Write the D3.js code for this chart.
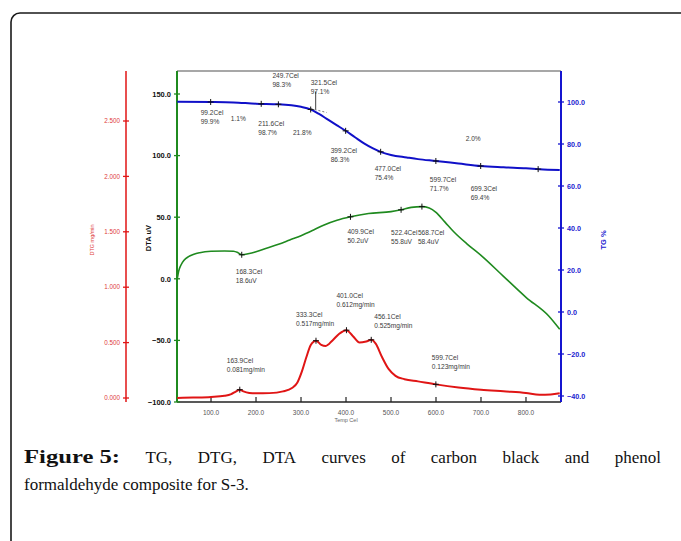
<!DOCTYPE html>
<html>
<head>
<meta charset="utf-8">
<script src="https://cdn.jsdelivr.net/npm/d3@7"></script>
<style>
	body { margin: 0; background: #fff; }
	svg { display: block; }
</style>
</head>
<body>
<svg id="chart" width="681" height="541"></svg>
<script>
// temperature (Cel) / value pairs
const tgTemp = [25, 100, 150, 200, 250, 300, 320, 340, 360, 380, 399, 420, 440, 460, 480, 500, 535, 560, 600, 650, 700, 750, 800, 830, 875];
const tgVal  = [100.1, 100.0, 99.8, 99.2, 98.9, 97.7, 96.6, 94.3, 91.6, 88.9, 86.3, 83.2, 80.3, 77.9, 76.0, 74.8, 73.6, 72.8, 71.9, 70.7, 69.5, 68.9, 68.4, 68.0, 67.6];

const dtaTemp = [25, 28, 33, 40, 50, 62, 75, 100, 130, 150, 160, 168.3, 185, 200, 225, 250, 275, 300, 330, 350, 380, 409.9, 450, 500, 522.4, 545, 568.7, 585, 600, 620, 640, 670, 700, 750, 800, 850, 875];
const dtaVal  = [0, 6, 11, 15, 18, 20, 21.2, 22.3, 22.6, 22.4, 21.2, 19.5, 20.5, 22, 25, 28, 31.5, 35, 40, 43.5, 47.5, 50.3, 53, 54.5, 56, 58, 58.6, 57.5, 54, 46, 38, 28, 19, 2, -15, -30, -41];

const dtgTemp = [25, 60, 100, 130, 145, 155, 163.9, 172, 185, 200, 230, 260, 280, 292, 302, 312, 322, 333.3, 345, 355, 370, 385, 401, 415, 430, 445, 456.1, 466, 480, 495, 510, 530, 560, 599.7, 650, 700, 750, 800, 830, 855, 875];
const dtgVal  = [0.0, 0.004, 0.01, 0.02, 0.035, 0.058, 0.075, 0.06, 0.046, 0.042, 0.044, 0.06, 0.09, 0.14, 0.24, 0.37, 0.48, 0.517, 0.48, 0.47, 0.52, 0.58, 0.612, 0.56, 0.50, 0.51, 0.525, 0.49, 0.37, 0.26, 0.2, 0.17, 0.15, 0.123, 0.095, 0.075, 0.06, 0.045, 0.03, 0.032, 0.042];

const xTicks   = [100, 200, 300, 400, 500, 600, 700, 800];
const dtaTicks = [-100, -50, 0, 50, 100, 150];
const dtgTicks = [0, 0.5, 1.0, 1.5, 2.0, 2.5];
const tgTicks  = [-40, -20, 0, 20, 40, 60, 80, 100];

// marked points
const tgMarks  = [99.2, 211.6, 249.7, 321.5, 399.2, 477.0, 599.7, 699.3, 827];
const tgNotes  = [["99.2Cel", "99.9%"], ["211.6Cel", "98.7%"], ["249.7Cel", "98.3%"], ["321.5Cel", "97.1%"],
                  ["399.2Cel", "86.3%"], ["477.0Cel", "75.4%"], ["599.7Cel", "71.7%"], ["699.3Cel", "69.4%"], null];
const tgSteps  = ["1.1%", "21.8%", "2.0%"];
const tgStepAt = [[144, 91], [282, 84.3], [666, 81.4]];

const dtaMarks = [168.3, 409.9, 522.4, 568.7];
const dtaNotes = [["168.3Cel", "18.6uV"], ["409.9Cel", "50.2uV"], ["522.4Cel", "55.8uV"], ["568.7Cel", "58.4uV"]];

const dtgMarks = [163.9, 333.3, 401.0, 456.1, 599.7];
const dtgNotes = [["163.9Cel", "0.081mg/min"], ["333.3Cel", "0.517mg/min"], ["401.0Cel", "0.612mg/min"],
                  ["456.1Cel", "0.525mg/min"], ["599.7Cel", "0.123mg/min"]];

// label offsets from their marker (layout only)
const tgOff  = [[-10, 13.5], [-3, 22], [-6, -26.5], [0, -24.5], [-15, 22.5], [-6, 19.5], [-6, 21.5], [-10, 24.5], null];
const dtaOff = [[-6, 19.5], [-3, 17.5], [-10, 25.5], [-4, 28.5]];
const dtgOff = [[-13, -26.5], [-20, -23.5], [-10, -32.5], [3, -20.5], [-4, -24.5]];

const captionBold = "Figure 5:";
const captionLine1 = "TG, DTG, DTA curves of carbon black and phenol";
const captionLine2 = "formaldehyde composite for S-3.";

const plot = { left: 177, right: 561, top: 71, bottom: 402, redAxis: 126 };
const colors = { tg: "#1010c8", dta: "#1f8a1f", dtg: "#e01515", note: "#3a3a3a" };
const sans = "'Liberation Sans', Arial, sans-serif";

const svg = d3.select("#chart");

// frame
svg.append("rect")
	.attr("x", 11).attr("y", 13)
	.attr("width", 720).attr("height", 580)
	.attr("rx", 9)
	.attr("fill", "none")
	.attr("stroke", "#1a1a1a")
	.attr("stroke-width", 1.6);

const x = d3.scaleLinear().domain([24.4, 877.8]).range([plot.left, plot.right]);
const yDta = d3.scaleLinear().domain([-100, 150]).range([402, 94]);
const yDtg = d3.scaleLinear().domain([0, 2.5]).range([398, 121]);
const yTg = d3.scaleLinear().domain([-40, 100]).range([396, 102]);

const g = svg.append("g");

// top border of the plot area
g.append("line")
	.attr("x1", plot.left).attr("x2", plot.right)
	.attr("y1", plot.top).attr("y2", plot.top)
	.attr("stroke", "#8a8a8a").attr("stroke-width", 1.5);

// bottom x axis
g.append("line")
	.attr("x1", plot.left).attr("x2", plot.right)
	.attr("y1", plot.bottom).attr("y2", plot.bottom)
	.attr("stroke", "#222").attr("stroke-width", 1.5);

g.append("g").selectAll("line")
	.data(xTicks)
	.join("line")
	.attr("x1", d => x(d)).attr("x2", d => x(d))
	.attr("y1", plot.bottom).attr("y2", plot.bottom - 5)
	.attr("stroke", "#222").attr("stroke-width", 1.2);

g.append("g").selectAll("text")
	.data(xTicks)
	.join("text")
	.attr("x", d => x(d)).attr("y", plot.bottom + 13)
	.attr("text-anchor", "middle")
	.attr("font-family", sans).attr("font-size", 6.5)
	.attr("fill", "#555")
	.text(d => d3.format(".1f")(d));

g.append("text")
	.attr("x", x(400)).attr("y", plot.bottom + 20)
	.attr("text-anchor", "middle")
	.attr("font-family", sans).attr("font-size", 5.5)
	.attr("fill", "#666")
	.text("Temp Cel");

// vertical axes
function vAxis(xpos, scale, ticks, color, fmt, side, labelSize, bold, labelColor, lw) {
	let a = g.append("g");
	a.append("line")
		.attr("x1", xpos).attr("x2", xpos)
		.attr("y1", plot.top).attr("y2", plot.bottom)
		.attr("stroke", color).attr("stroke-width", lw);
	a.selectAll("line.tick")
		.data(ticks)
		.join("line")
		.attr("class", "tick")
		.attr("x1", xpos - 3).attr("x2", xpos + 3)
		.attr("y1", d => scale(d)).attr("y2", d => scale(d))
		.attr("stroke", color).attr("stroke-width", 1.3);
	a.selectAll("text")
		.data(ticks)
		.join("text")
		.attr("x", side == "left" ? xpos - 6 : xpos + 6)
		.attr("y", d => scale(d) + labelSize * 0.36)
		.attr("text-anchor", side == "left" ? "end" : "start")
		.attr("font-family", sans).attr("font-size", labelSize)
		.attr("font-weight", bold ? "bold" : "normal")
		.attr("fill", labelColor)
		.text(d => fmt(d));
}

vAxis(plot.redAxis, yDtg, dtgTicks, colors.dtg, d3.format(".3f"), "left", 6.3, false, "#e04040", 1.5);
vAxis(plot.left, yDta, dtaTicks, colors.dta, d3.format(".1f"), "left", 7.5, true, "#111", 2);
vAxis(plot.right, yTg, tgTicks, "#1515d0", d3.format(".1f"), "right", 7.2, true, "#2020d0", 2);

function axisTitle(xpos, ypos, txt, size, color, bold) {
	g.append("text")
		.attr("transform", `translate(${xpos},${ypos}) rotate(-90)`)
		.attr("text-anchor", "middle")
		.attr("font-family", sans).attr("font-size", size)
		.attr("font-weight", bold ? "bold" : "normal")
		.attr("fill", color)
		.text(txt);
}
axisTitle(94, 240, "DTG mg/min", 5.5, "#e04040", false);
axisTitle(151, 238, "DTA uV", 7.5, "#111", true);
axisTitle(606, 240, "TG %", 7.5, "#2020d0", true);

// curves
function drawCurve(temps, vals, yscale, color, width) {
	let pts = temps.map((t, i) => [t, vals[i]]);
	g.append("path")
		.datum(pts)
		.attr("fill", "none")
		.attr("stroke", color)
		.attr("stroke-width", width)
		.attr("stroke-linejoin", "round")
		.attr("d", d3.line().x(d => x(d[0])).y(d => yscale(d[1])).curve(d3.curveMonotoneX));
}
drawCurve(dtgTemp, dtgVal, yDtg, colors.dtg, 2);
drawCurve(dtaTemp, dtaVal, yDta, colors.dta, 1.6);
drawCurve(tgTemp, tgVal, yTg, colors.tg, 2);

// markers and labels
function drawMarks(marks, temps, vals, yscale, notes, offs) {
	let interp = d3.scaleLinear().domain(temps).range(vals);
	marks.forEach((t, i) => {
		let px = x(t), py = yscale(interp(t));
		g.append("path")
			.attr("d", `M${px - 3},${py}H${px + 3}M${px},${py - 3}V${py + 3}`)
			.attr("stroke", "#111").attr("stroke-width", 1);
		if (notes[i] == null) return;
		let tx = g.append("text")
			.attr("font-family", sans).attr("font-size", 6.6)
			.attr("fill", colors.note);
		notes[i].forEach((s, k) => {
			tx.append("tspan")
				.attr("x", px + offs[i][0])
				.attr("y", py + offs[i][1] + k * 9)
				.text(s);
		});
	});
}
drawMarks(tgMarks, tgTemp, tgVal, yTg, tgNotes, tgOff);
drawMarks(dtaMarks, dtaTemp, dtaVal, yDta, dtaNotes, dtaOff);
drawMarks(dtgMarks, dtgTemp, dtgVal, yDtg, dtgNotes, dtgOff);

// leader for the 321.5 onset note
{
	let interp = d3.scaleLinear().domain(tgTemp).range(tgVal);
	let px = x(321.5), py = yTg(interp(321.5));
	g.append("line")
		.attr("x1", px + 5).attr("x2", px + 5)
		.attr("y1", py).attr("y2", py - 18)
		.attr("stroke", "#111").attr("stroke-width", 0.8);
	g.append("line")
		.attr("x1", px).attr("x2", px + 16)
		.attr("y1", py - 1).attr("y2", py + 3)
		.attr("stroke", "#555").attr("stroke-width", 0.8)
		.attr("stroke-dasharray", "2,2");
}

g.append("g").selectAll("text")
	.data(tgSteps)
	.join("text")
	.attr("x", (d, i) => x(tgStepAt[i][0]))
	.attr("y", (d, i) => yTg(tgStepAt[i][1]))
	.attr("font-family", sans).attr("font-size", 6.6)
	.attr("fill", colors.note)
	.text(d => d);

// caption, first line justified
const serif = "'Liberation Serif', 'Times New Roman', serif";
const cap = svg.append("g").attr("font-family", serif).attr("font-size", 17).attr("fill", "#111");
const words = [captionBold, ...captionLine1.split(" ")];
const capLeft = 24, capRight = 661, boldWidth = 96;
let nodes = words.map((w, i) => {
	let t = cap.append("text").attr("y", 463).text(w);
	if (i == 0) {
		t.attr("font-weight", "bold")
			.attr("font-size", 18)
			.attr("textLength", boldWidth)
			.attr("lengthAdjust", "spacingAndGlyphs");
	}
	return t;
});
let widths = nodes.map((n, i) => i == 0 ? boldWidth : n.node().getComputedTextLength());
let gap = (capRight - capLeft - d3.sum(widths)) / (words.length - 1);
let cx = capLeft;
nodes.forEach((n, i) => { n.attr("x", cx); cx += widths[i] + gap; });

cap.append("text").attr("x", capLeft).attr("y", 490).text(captionLine2);
</script>
</body>
</html>
